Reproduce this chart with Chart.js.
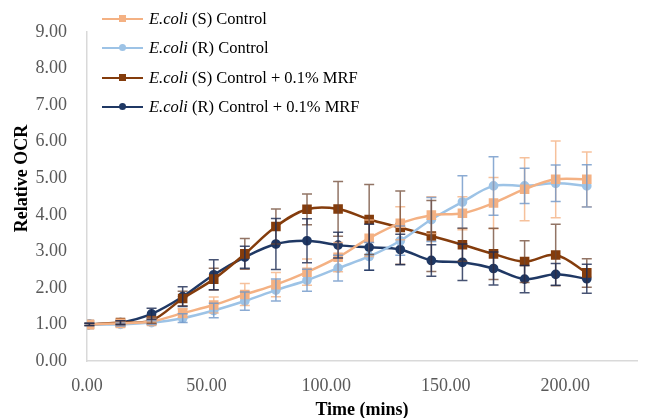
<!DOCTYPE html>
<html>
<head>
<meta charset="utf-8">
<script src="https://cdn.jsdelivr.net/npm/chart.js@4.4.1/dist/chart.umd.min.js"></script>
<style>
    body { margin: 0; background: #fff; }
    #wrap { position: relative; width: 653px; height: 418px; }
    #leyenda { position: absolute; left: 102px; top: 4px; font-family: "Liberation Serif", "Times New Roman", serif; font-size: 16.5px; color: #000; }
    .fila { height: 29.5px; display: flex; align-items: center; }
    .muestra { position: relative; width: 41px; height: 2px; margin-right: 6px; }
    .marca { position: absolute; left: 17px; top: -3px; width: 7px; height: 7px; }
</style>
</head>
<body>
<div id="wrap">
    <canvas id="grafico" width="653" height="418"></canvas>
    <div id="leyenda"></div>
</div>
<script>
// tiempos (min)
const tiempos = [1, 14, 27, 40, 53, 66, 79, 92, 105, 118, 131, 144, 157, 170, 183, 196, 209];

const etiquetas = ['(S) Control', '(R) Control', '(S) Control + 0.1% MRF', '(R) Control + 0.1% MRF'];

const sControl = [1.00, 1.03, 1.08, 1.31, 1.53, 1.82, 2.09, 2.43, 2.84, 3.36, 3.77, 3.99, 4.04, 4.32, 4.70, 4.97, 4.97];
const rControl = [1.00, 1.00, 1.05, 1.17, 1.38, 1.64, 1.94, 2.21, 2.54, 2.86, 3.29, 3.87, 4.35, 4.79, 4.79, 4.86, 4.79];
const sMrf = [1.00, 1.05, 1.11, 1.71, 2.24, 2.93, 3.68, 4.15, 4.16, 3.87, 3.65, 3.42, 3.18, 2.93, 2.72, 2.90, 2.41];
const rMrf = [1.00, 1.05, 1.29, 1.76, 2.36, 2.84, 3.20, 3.29, 3.17, 3.11, 3.05, 2.75, 2.70, 2.53, 2.24, 2.37, 2.25];

// barras de error (+/-)
const errSControl = [0.03, 0.05, 0.06, 0.12, 0.22, 0.30, 0.33, 0.36, 0.40, 0.50, 0.45, 0.50, 0.45, 0.70, 0.86, 1.05, 0.75];
const errRControl = [0.03, 0.04, 0.05, 0.12, 0.20, 0.25, 0.30, 0.30, 0.35, 0.38, 0.40, 0.60, 0.72, 0.80, 0.48, 0.50, 0.58];
const errSMrf = [0.03, 0.05, 0.08, 0.20, 0.30, 0.42, 0.48, 0.42, 0.75, 0.96, 1.00, 0.97, 0.45, 0.70, 0.57, 0.84, 0.39];
const errRMrf = [0.03, 0.05, 0.15, 0.27, 0.41, 0.30, 0.70, 0.60, 0.35, 0.63, 0.42, 0.43, 0.50, 0.45, 0.37, 0.30, 0.40];

const colores = ['#F4B183', '#9DC3E6', '#843C0C', '#1F3864'];
const coloresError = ['rgba(244,177,131,0.8)', 'rgba(110,150,200,0.8)', 'rgba(110,70,50,0.75)', 'rgba(25,40,80,0.8)'];
const formas = ['rect', 'circle', 'rect', 'circle'];

const series = [sControl, rControl, sMrf, rMrf];
const errores = [errSControl, errRControl, errSMrf, errRMrf];

const fuente = '"Liberation Serif", "Times New Roman", serif';

function puntos(valores) {
    return valores.map((v, i) => ({ x: tiempos[i], y: v }));
}

const barrasError = {
    id: 'barrasError',
    afterDatasetsDraw(chart) {
        const ctx = chart.ctx;
        const yScale = chart.scales.y;
        chart.data.datasets.forEach((ds, d) => {
            const meta = chart.getDatasetMeta(d);
            ctx.save();
            ctx.strokeStyle = coloresError[d];
            ctx.lineWidth = 1.5;
            meta.data.forEach((p, i) => {
                const v = series[d][i];
                const e = errores[d][i];
                const y1 = yScale.getPixelForValue(v + e);
                const y2 = yScale.getPixelForValue(v - e);
                ctx.beginPath();
                ctx.moveTo(p.x, y1); ctx.lineTo(p.x, y2);
                ctx.moveTo(p.x - 5, y1); ctx.lineTo(p.x + 5, y1);
                ctx.moveTo(p.x - 5, y2); ctx.lineTo(p.x + 5, y2);
                ctx.stroke();
            });
            ctx.restore();
        });
    }
};

new Chart(document.getElementById('grafico'), {
    type: 'line',
    data: {
        datasets: series.map((s, i) => ({
            label: 'E.coli ' + etiquetas[i],
            data: puntos(s),
            borderColor: colores[i],
            backgroundColor: colores[i],
            borderWidth: 2.5,
            pointStyle: formas[i],
            pointRadius: formas[i] === 'rect' ? 5 : 3.6,
            tension: 0.35
        }))
    },
    options: {
        responsive: false,
        animation: false,
        layout: { padding: { top: 32, right: 16, left: 0, bottom: 0 } },
        plugins: { legend: { display: false }, tooltip: { enabled: false } },
        scales: {
            x: {
                type: 'linear',
                min: 0, max: 230,
                afterFit: s => { s.height = 57; },
                grid: { display: false },
                border: { display: true, color: '#d9d9d9', width: 1.5 },
                ticks: {
                    stepSize: 50, padding: 6, color: '#595959',
                    font: { family: fuente, size: 18 },
                    callback: v => (v % 50 === 0 ? v.toFixed(2) : null)
                },
                title: { display: true, text: 'Time (mins)', color: '#000', padding: { top: 0, bottom: 0 }, font: { family: fuente, size: 18, weight: 'bold', lineHeight: 0.85 } }
            },
            y: {
                min: 0, max: 9,
                afterFit: s => { s.width = 87; },
                grid: { display: false },
                border: { display: true, color: '#d9d9d9', width: 1.5 },
                ticks: {
                    stepSize: 1, padding: 12, color: '#595959',
                    font: { family: fuente, size: 18 },
                    callback: v => v.toFixed(2)
                },
                title: { display: true, text: '\u00a0\u00a0\u00a0\u00a0\u00a0\u00a0\u00a0\u00a0Relative OCR', color: '#000', padding: { top: 13, bottom: 0 }, font: { family: fuente, size: 18, weight: 'bold', lineHeight: 1 } }
            }
        }
    },
    plugins: [barrasError]
});

// leyenda con cursiva
const leyenda = document.getElementById('leyenda');
etiquetas.forEach((txt, i) => {
    const radio = formas[i] === 'circle' ? '50%' : '0';
    leyenda.innerHTML += `
        <div class="fila">
            <span class="muestra" style="background:${colores[i]}">
                <span class="marca" style="background:${colores[i]};border-radius:${radio}"></span>
            </span>
            <span><i>E.coli</i> ${txt}</span>
        </div>`;
});
</script>
</body>
</html>
